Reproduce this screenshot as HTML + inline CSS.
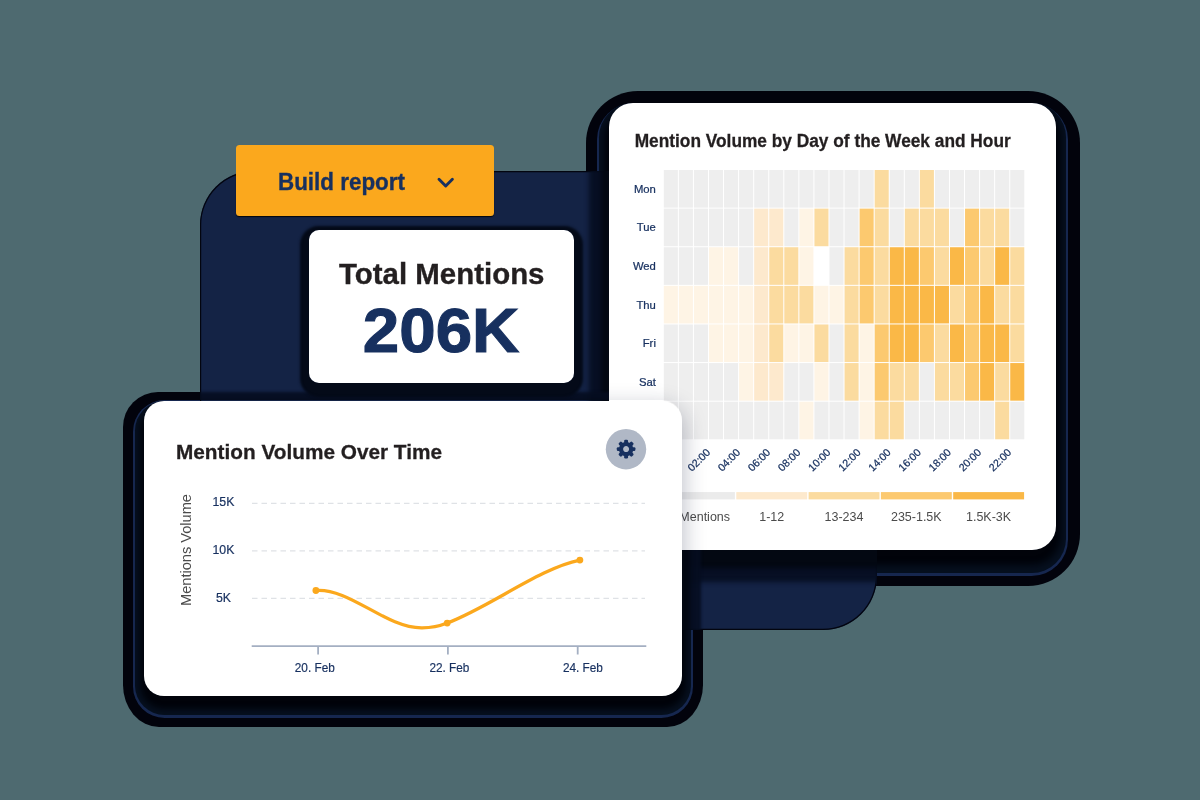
<!DOCTYPE html><html><head><meta charset="utf-8"><title>Report</title><style>
html,body{margin:0;padding:0}
body{width:1200px;height:800px;position:relative;overflow:hidden;background:#4e6a70;font-family:"Liberation Sans",sans-serif}
svg{position:absolute;left:0;top:0;overflow:visible;will-change:transform}
svg text{font-family:"Liberation Sans",sans-serif}
</style></head><body>
<div style="position:absolute;left:586.0px;top:91.4px;width:494.00px;height:494.60px;border-radius:52px;background:#02030c;"></div>
<div style="position:absolute;left:596.8px;top:102.80000000000001px;width:471.70px;height:472.80px;border-radius:36.5px;background:#16274f"></div>
<div style="position:absolute;left:599.0px;top:103.4px;width:467.30px;height:469.60px;border-radius:34.3px;background:#06101f;overflow:hidden">
<div style="position:absolute;left:10.299999999999955px;top:0.0px;width:446.70px;height:446.60px;border-radius:24px;box-shadow:0 10px 7px 5px #01030a"></div>
</div>
<div style="position:absolute;left:123.10000000000001px;top:391.5px;width:579.70px;height:335.20px;border-radius:35px;background:#02030c;border-radius:35px 35px 36px 36px / 35px 35px 42px 42px"></div>
<div style="position:absolute;left:132.70000000000002px;top:399.9px;width:560.70px;height:317.90px;border-radius:31.6px;background:#16274f"></div>
<div style="position:absolute;left:134.70000000000002px;top:400.5px;width:556.70px;height:314.90px;border-radius:29.6px;background:#06101f;overflow:hidden">
<div style="position:absolute;left:9.599999999999994px;top:0.0px;width:537.50px;height:295.70px;border-radius:20px;box-shadow:0 9px 6px 4px #01030a"></div>
</div>
<div style="position:absolute;left:200.3px;top:171.3px;width:677.2px;height:458.90000000000003px;border-radius:54px;background:#142345;overflow:hidden;box-shadow:inset 0 0 0 1.2px #03050f">
<div style="position:absolute;left:408.99999999999994px;top:-67.9px;width:446.70px;height:446.60px;border-radius:24px;box-shadow:0 10px 5px 8px #030812,0 12px 5px 19.5px rgba(6,13,32,.9)"></div>
<div style="position:absolute;left:-56.0px;top:229.2px;width:537.50px;height:295.70px;border-radius:20px;box-shadow:0 9px 5px 8px #030812,0 10.5px 3px 18.5px rgba(6,13,32,.9)"></div>
<div style="position:absolute;left:109.09999999999997px;top:58.69999999999999px;width:264.80px;height:152.60px;border-radius:10px;box-shadow:0 5px 2.5px 8.5px #040a18"></div>
<div style="position:absolute;left:35.89999999999998px;top:-26.5px;width:258.00px;height:71.20px;border-radius:3.5px;box-shadow:0 1px 1px 0 rgba(0,0,0,.85)"></div>
</div>
<div style="position:absolute;left:609.3px;top:103.4px;width:446.70000000000005px;height:446.6px;border-radius:24px;background:#fff;overflow:hidden">
<svg width="446.70000000000005" height="446.6" viewBox="609.3 103.4 446.70000000000005 446.6">
<rect x="664.10" y="170.40" width="14.06" height="37.61" fill="#eeeeee"/>
<rect x="679.16" y="170.40" width="14.06" height="37.61" fill="#eeeeee"/>
<rect x="694.23" y="170.40" width="14.06" height="37.61" fill="#eeeeee"/>
<rect x="709.29" y="170.40" width="14.06" height="37.61" fill="#eeeeee"/>
<rect x="724.35" y="170.40" width="14.06" height="37.61" fill="#eeeeee"/>
<rect x="739.41" y="170.40" width="14.06" height="37.61" fill="#eeeeee"/>
<rect x="754.48" y="170.40" width="14.06" height="37.61" fill="#eeeeee"/>
<rect x="769.54" y="170.40" width="14.06" height="37.61" fill="#eeeeee"/>
<rect x="784.60" y="170.40" width="14.06" height="37.61" fill="#eeeeee"/>
<rect x="799.66" y="170.40" width="14.06" height="37.61" fill="#eeeeee"/>
<rect x="814.72" y="170.40" width="14.06" height="37.61" fill="#eeeeee"/>
<rect x="829.79" y="170.40" width="14.06" height="37.61" fill="#eeeeee"/>
<rect x="844.85" y="170.40" width="14.06" height="37.61" fill="#eeeeee"/>
<rect x="859.91" y="170.40" width="14.06" height="37.61" fill="#eeeeee"/>
<rect x="874.97" y="170.40" width="14.06" height="37.61" fill="#fbdb9f"/>
<rect x="890.04" y="170.40" width="14.06" height="37.61" fill="#eeeeee"/>
<rect x="905.10" y="170.40" width="14.06" height="37.61" fill="#eeeeee"/>
<rect x="920.16" y="170.40" width="14.06" height="37.61" fill="#fbdb9f"/>
<rect x="935.22" y="170.40" width="14.06" height="37.61" fill="#eeeeee"/>
<rect x="950.29" y="170.40" width="14.06" height="37.61" fill="#eeeeee"/>
<rect x="965.35" y="170.40" width="14.06" height="37.61" fill="#eeeeee"/>
<rect x="980.41" y="170.40" width="14.06" height="37.61" fill="#eeeeee"/>
<rect x="995.47" y="170.40" width="14.06" height="37.61" fill="#eeeeee"/>
<rect x="1010.54" y="170.40" width="14.06" height="37.61" fill="#eeeeee"/>
<rect x="664.10" y="209.01" width="14.06" height="37.61" fill="#eeeeee"/>
<rect x="679.16" y="209.01" width="14.06" height="37.61" fill="#eeeeee"/>
<rect x="694.23" y="209.01" width="14.06" height="37.61" fill="#eeeeee"/>
<rect x="709.29" y="209.01" width="14.06" height="37.61" fill="#eeeeee"/>
<rect x="724.35" y="209.01" width="14.06" height="37.61" fill="#eeeeee"/>
<rect x="739.41" y="209.01" width="14.06" height="37.61" fill="#eeeeee"/>
<rect x="754.48" y="209.01" width="14.06" height="37.61" fill="#fde9cd"/>
<rect x="769.54" y="209.01" width="14.06" height="37.61" fill="#fde9cd"/>
<rect x="784.60" y="209.01" width="14.06" height="37.61" fill="#eeeeee"/>
<rect x="799.66" y="209.01" width="14.06" height="37.61" fill="#fef4e5"/>
<rect x="814.72" y="209.01" width="14.06" height="37.61" fill="#fbdb9f"/>
<rect x="829.79" y="209.01" width="14.06" height="37.61" fill="#eeeeee"/>
<rect x="844.85" y="209.01" width="14.06" height="37.61" fill="#eeeeee"/>
<rect x="859.91" y="209.01" width="14.06" height="37.61" fill="#fcc96f"/>
<rect x="874.97" y="209.01" width="14.06" height="37.61" fill="#fbdb9f"/>
<rect x="890.04" y="209.01" width="14.06" height="37.61" fill="#eeeeee"/>
<rect x="905.10" y="209.01" width="14.06" height="37.61" fill="#fbdb9f"/>
<rect x="920.16" y="209.01" width="14.06" height="37.61" fill="#fbdb9f"/>
<rect x="935.22" y="209.01" width="14.06" height="37.61" fill="#fbdb9f"/>
<rect x="950.29" y="209.01" width="14.06" height="37.61" fill="#eeeeee"/>
<rect x="965.35" y="209.01" width="14.06" height="37.61" fill="#fcc96f"/>
<rect x="980.41" y="209.01" width="14.06" height="37.61" fill="#fbdb9f"/>
<rect x="995.47" y="209.01" width="14.06" height="37.61" fill="#fbdb9f"/>
<rect x="1010.54" y="209.01" width="14.06" height="37.61" fill="#eeeeee"/>
<rect x="664.10" y="247.63" width="14.06" height="37.61" fill="#eeeeee"/>
<rect x="679.16" y="247.63" width="14.06" height="37.61" fill="#eeeeee"/>
<rect x="694.23" y="247.63" width="14.06" height="37.61" fill="#eeeeee"/>
<rect x="709.29" y="247.63" width="14.06" height="37.61" fill="#fef4e5"/>
<rect x="724.35" y="247.63" width="14.06" height="37.61" fill="#fef4e5"/>
<rect x="739.41" y="247.63" width="14.06" height="37.61" fill="#eeeeee"/>
<rect x="754.48" y="247.63" width="14.06" height="37.61" fill="#fde9cd"/>
<rect x="769.54" y="247.63" width="14.06" height="37.61" fill="#fbdb9f"/>
<rect x="784.60" y="247.63" width="14.06" height="37.61" fill="#fbdb9f"/>
<rect x="799.66" y="247.63" width="14.06" height="37.61" fill="#fef4e5"/>
<rect x="814.72" y="247.63" width="14.06" height="37.61" fill="#ffffff"/>
<rect x="829.79" y="247.63" width="14.06" height="37.61" fill="#eeeeee"/>
<rect x="844.85" y="247.63" width="14.06" height="37.61" fill="#fbdb9f"/>
<rect x="859.91" y="247.63" width="14.06" height="37.61" fill="#fcc96f"/>
<rect x="874.97" y="247.63" width="14.06" height="37.61" fill="#fbdb9f"/>
<rect x="890.04" y="247.63" width="14.06" height="37.61" fill="#fab847"/>
<rect x="905.10" y="247.63" width="14.06" height="37.61" fill="#fab847"/>
<rect x="920.16" y="247.63" width="14.06" height="37.61" fill="#fcc96f"/>
<rect x="935.22" y="247.63" width="14.06" height="37.61" fill="#fbdb9f"/>
<rect x="950.29" y="247.63" width="14.06" height="37.61" fill="#fab847"/>
<rect x="965.35" y="247.63" width="14.06" height="37.61" fill="#fcc96f"/>
<rect x="980.41" y="247.63" width="14.06" height="37.61" fill="#fbdb9f"/>
<rect x="995.47" y="247.63" width="14.06" height="37.61" fill="#fab847"/>
<rect x="1010.54" y="247.63" width="14.06" height="37.61" fill="#fbdb9f"/>
<rect x="664.10" y="286.24" width="14.06" height="37.61" fill="#fef4e5"/>
<rect x="679.16" y="286.24" width="14.06" height="37.61" fill="#fef4e5"/>
<rect x="694.23" y="286.24" width="14.06" height="37.61" fill="#fef4e5"/>
<rect x="709.29" y="286.24" width="14.06" height="37.61" fill="#fef4e5"/>
<rect x="724.35" y="286.24" width="14.06" height="37.61" fill="#fef4e5"/>
<rect x="739.41" y="286.24" width="14.06" height="37.61" fill="#fef4e5"/>
<rect x="754.48" y="286.24" width="14.06" height="37.61" fill="#fde9cd"/>
<rect x="769.54" y="286.24" width="14.06" height="37.61" fill="#fbdb9f"/>
<rect x="784.60" y="286.24" width="14.06" height="37.61" fill="#fbdb9f"/>
<rect x="799.66" y="286.24" width="14.06" height="37.61" fill="#fbdb9f"/>
<rect x="814.72" y="286.24" width="14.06" height="37.61" fill="#fef4e5"/>
<rect x="829.79" y="286.24" width="14.06" height="37.61" fill="#fef4e5"/>
<rect x="844.85" y="286.24" width="14.06" height="37.61" fill="#fbdb9f"/>
<rect x="859.91" y="286.24" width="14.06" height="37.61" fill="#fcc96f"/>
<rect x="874.97" y="286.24" width="14.06" height="37.61" fill="#fbdb9f"/>
<rect x="890.04" y="286.24" width="14.06" height="37.61" fill="#fab847"/>
<rect x="905.10" y="286.24" width="14.06" height="37.61" fill="#fab847"/>
<rect x="920.16" y="286.24" width="14.06" height="37.61" fill="#fab847"/>
<rect x="935.22" y="286.24" width="14.06" height="37.61" fill="#fab847"/>
<rect x="950.29" y="286.24" width="14.06" height="37.61" fill="#fbdb9f"/>
<rect x="965.35" y="286.24" width="14.06" height="37.61" fill="#fcc96f"/>
<rect x="980.41" y="286.24" width="14.06" height="37.61" fill="#fab847"/>
<rect x="995.47" y="286.24" width="14.06" height="37.61" fill="#fbdb9f"/>
<rect x="1010.54" y="286.24" width="14.06" height="37.61" fill="#fbdb9f"/>
<rect x="664.10" y="324.86" width="14.06" height="37.61" fill="#eeeeee"/>
<rect x="679.16" y="324.86" width="14.06" height="37.61" fill="#eeeeee"/>
<rect x="694.23" y="324.86" width="14.06" height="37.61" fill="#eeeeee"/>
<rect x="709.29" y="324.86" width="14.06" height="37.61" fill="#fef4e5"/>
<rect x="724.35" y="324.86" width="14.06" height="37.61" fill="#fef4e5"/>
<rect x="739.41" y="324.86" width="14.06" height="37.61" fill="#fef4e5"/>
<rect x="754.48" y="324.86" width="14.06" height="37.61" fill="#fde9cd"/>
<rect x="769.54" y="324.86" width="14.06" height="37.61" fill="#fbdb9f"/>
<rect x="784.60" y="324.86" width="14.06" height="37.61" fill="#fef4e5"/>
<rect x="799.66" y="324.86" width="14.06" height="37.61" fill="#fef4e5"/>
<rect x="814.72" y="324.86" width="14.06" height="37.61" fill="#fbdb9f"/>
<rect x="829.79" y="324.86" width="14.06" height="37.61" fill="#eeeeee"/>
<rect x="844.85" y="324.86" width="14.06" height="37.61" fill="#fbdb9f"/>
<rect x="859.91" y="324.86" width="14.06" height="37.61" fill="#fef4e5"/>
<rect x="874.97" y="324.86" width="14.06" height="37.61" fill="#fcc96f"/>
<rect x="890.04" y="324.86" width="14.06" height="37.61" fill="#fab847"/>
<rect x="905.10" y="324.86" width="14.06" height="37.61" fill="#fab847"/>
<rect x="920.16" y="324.86" width="14.06" height="37.61" fill="#fcc96f"/>
<rect x="935.22" y="324.86" width="14.06" height="37.61" fill="#fbdb9f"/>
<rect x="950.29" y="324.86" width="14.06" height="37.61" fill="#fab847"/>
<rect x="965.35" y="324.86" width="14.06" height="37.61" fill="#fcc96f"/>
<rect x="980.41" y="324.86" width="14.06" height="37.61" fill="#fab847"/>
<rect x="995.47" y="324.86" width="14.06" height="37.61" fill="#fab847"/>
<rect x="1010.54" y="324.86" width="14.06" height="37.61" fill="#fbdb9f"/>
<rect x="664.10" y="363.47" width="14.06" height="37.61" fill="#eeeeee"/>
<rect x="679.16" y="363.47" width="14.06" height="37.61" fill="#eeeeee"/>
<rect x="694.23" y="363.47" width="14.06" height="37.61" fill="#eeeeee"/>
<rect x="709.29" y="363.47" width="14.06" height="37.61" fill="#eeeeee"/>
<rect x="724.35" y="363.47" width="14.06" height="37.61" fill="#eeeeee"/>
<rect x="739.41" y="363.47" width="14.06" height="37.61" fill="#fef4e5"/>
<rect x="754.48" y="363.47" width="14.06" height="37.61" fill="#fde9cd"/>
<rect x="769.54" y="363.47" width="14.06" height="37.61" fill="#fde9cd"/>
<rect x="784.60" y="363.47" width="14.06" height="37.61" fill="#eeeeee"/>
<rect x="799.66" y="363.47" width="14.06" height="37.61" fill="#eeeeee"/>
<rect x="814.72" y="363.47" width="14.06" height="37.61" fill="#fef4e5"/>
<rect x="829.79" y="363.47" width="14.06" height="37.61" fill="#eeeeee"/>
<rect x="844.85" y="363.47" width="14.06" height="37.61" fill="#fbdb9f"/>
<rect x="859.91" y="363.47" width="14.06" height="37.61" fill="#fef4e5"/>
<rect x="874.97" y="363.47" width="14.06" height="37.61" fill="#fcc96f"/>
<rect x="890.04" y="363.47" width="14.06" height="37.61" fill="#fbdb9f"/>
<rect x="905.10" y="363.47" width="14.06" height="37.61" fill="#fbdb9f"/>
<rect x="920.16" y="363.47" width="14.06" height="37.61" fill="#eeeeee"/>
<rect x="935.22" y="363.47" width="14.06" height="37.61" fill="#fbdb9f"/>
<rect x="950.29" y="363.47" width="14.06" height="37.61" fill="#fbdb9f"/>
<rect x="965.35" y="363.47" width="14.06" height="37.61" fill="#fcc96f"/>
<rect x="980.41" y="363.47" width="14.06" height="37.61" fill="#fab847"/>
<rect x="995.47" y="363.47" width="14.06" height="37.61" fill="#fbdb9f"/>
<rect x="1010.54" y="363.47" width="14.06" height="37.61" fill="#fab847"/>
<rect x="664.10" y="402.09" width="14.06" height="37.61" fill="#eeeeee"/>
<rect x="679.16" y="402.09" width="14.06" height="37.61" fill="#eeeeee"/>
<rect x="694.23" y="402.09" width="14.06" height="37.61" fill="#eeeeee"/>
<rect x="709.29" y="402.09" width="14.06" height="37.61" fill="#eeeeee"/>
<rect x="724.35" y="402.09" width="14.06" height="37.61" fill="#eeeeee"/>
<rect x="739.41" y="402.09" width="14.06" height="37.61" fill="#eeeeee"/>
<rect x="754.48" y="402.09" width="14.06" height="37.61" fill="#eeeeee"/>
<rect x="769.54" y="402.09" width="14.06" height="37.61" fill="#eeeeee"/>
<rect x="784.60" y="402.09" width="14.06" height="37.61" fill="#eeeeee"/>
<rect x="799.66" y="402.09" width="14.06" height="37.61" fill="#fef4e5"/>
<rect x="814.72" y="402.09" width="14.06" height="37.61" fill="#eeeeee"/>
<rect x="829.79" y="402.09" width="14.06" height="37.61" fill="#eeeeee"/>
<rect x="844.85" y="402.09" width="14.06" height="37.61" fill="#eeeeee"/>
<rect x="859.91" y="402.09" width="14.06" height="37.61" fill="#fef4e5"/>
<rect x="874.97" y="402.09" width="14.06" height="37.61" fill="#fbdb9f"/>
<rect x="890.04" y="402.09" width="14.06" height="37.61" fill="#fbdb9f"/>
<rect x="905.10" y="402.09" width="14.06" height="37.61" fill="#eeeeee"/>
<rect x="920.16" y="402.09" width="14.06" height="37.61" fill="#eeeeee"/>
<rect x="935.22" y="402.09" width="14.06" height="37.61" fill="#eeeeee"/>
<rect x="950.29" y="402.09" width="14.06" height="37.61" fill="#eeeeee"/>
<rect x="965.35" y="402.09" width="14.06" height="37.61" fill="#eeeeee"/>
<rect x="980.41" y="402.09" width="14.06" height="37.61" fill="#eeeeee"/>
<rect x="995.47" y="402.09" width="14.06" height="37.61" fill="#fbdb9f"/>
<rect x="1010.54" y="402.09" width="14.06" height="37.61" fill="#eeeeee"/>
<text x="635" y="147.2" font-size="19" font-weight="700" fill="#231f20" stroke="#231f20" stroke-width="0.3" textLength="376" lengthAdjust="spacingAndGlyphs">Mention Volume by Day of the Week and Hour</text>
<text x="656.2" y="193.2" font-size="11.3" text-anchor="end" fill="#17305f" stroke="#17305f" stroke-width="0.25">Mon</text>
<text x="656.2" y="231.8" font-size="11.3" text-anchor="end" fill="#17305f" stroke="#17305f" stroke-width="0.25">Tue</text>
<text x="656.2" y="270.4" font-size="11.3" text-anchor="end" fill="#17305f" stroke="#17305f" stroke-width="0.25">Wed</text>
<text x="656.2" y="309.0" font-size="11.3" text-anchor="end" fill="#17305f" stroke="#17305f" stroke-width="0.25">Thu</text>
<text x="656.2" y="347.7" font-size="11.3" text-anchor="end" fill="#17305f" stroke="#17305f" stroke-width="0.25">Fri</text>
<text x="656.2" y="386.3" font-size="11.3" text-anchor="end" fill="#17305f" stroke="#17305f" stroke-width="0.25">Sat</text>
<text x="656.2" y="424.9" font-size="11.3" text-anchor="end" fill="#17305f" stroke="#17305f" stroke-width="0.25">Sun</text>
<text transform="translate(680.9,453.6) rotate(-45)" font-size="10.6" text-anchor="end" fill="#17305f" stroke="#17305f" stroke-width="0.25">00:00</text>
<text transform="translate(711.1,453.6) rotate(-45)" font-size="10.6" text-anchor="end" fill="#17305f" stroke="#17305f" stroke-width="0.25">02:00</text>
<text transform="translate(741.2,453.6) rotate(-45)" font-size="10.6" text-anchor="end" fill="#17305f" stroke="#17305f" stroke-width="0.25">04:00</text>
<text transform="translate(771.3,453.6) rotate(-45)" font-size="10.6" text-anchor="end" fill="#17305f" stroke="#17305f" stroke-width="0.25">06:00</text>
<text transform="translate(801.4,453.6) rotate(-45)" font-size="10.6" text-anchor="end" fill="#17305f" stroke="#17305f" stroke-width="0.25">08:00</text>
<text transform="translate(831.6,453.6) rotate(-45)" font-size="10.6" text-anchor="end" fill="#17305f" stroke="#17305f" stroke-width="0.25">10:00</text>
<text transform="translate(861.7,453.6) rotate(-45)" font-size="10.6" text-anchor="end" fill="#17305f" stroke="#17305f" stroke-width="0.25">12:00</text>
<text transform="translate(891.8,453.6) rotate(-45)" font-size="10.6" text-anchor="end" fill="#17305f" stroke="#17305f" stroke-width="0.25">14:00</text>
<text transform="translate(921.9,453.6) rotate(-45)" font-size="10.6" text-anchor="end" fill="#17305f" stroke="#17305f" stroke-width="0.25">16:00</text>
<text transform="translate(952.1,453.6) rotate(-45)" font-size="10.6" text-anchor="end" fill="#17305f" stroke="#17305f" stroke-width="0.25">18:00</text>
<text transform="translate(982.2,453.6) rotate(-45)" font-size="10.6" text-anchor="end" fill="#17305f" stroke="#17305f" stroke-width="0.25">20:00</text>
<text transform="translate(1012.3,453.6) rotate(-45)" font-size="10.6" text-anchor="end" fill="#17305f" stroke="#17305f" stroke-width="0.25">22:00</text>
<rect x="664.30" y="492.5" width="70.90" height="7.3" fill="#ebebeb"/>
<text x="699.8" y="521.3" font-size="12.5" text-anchor="middle" fill="#4b4b4b">0 Mentions</text>
<rect x="736.60" y="492.5" width="70.90" height="7.3" fill="#fde9cd"/>
<text x="772.0" y="521.3" font-size="12.5" text-anchor="middle" fill="#4b4b4b">1-12</text>
<rect x="808.90" y="492.5" width="70.90" height="7.3" fill="#fbdb9f"/>
<text x="844.3" y="521.3" font-size="12.5" text-anchor="middle" fill="#4b4b4b">13-234</text>
<rect x="881.20" y="492.5" width="70.90" height="7.3" fill="#fcc96f"/>
<text x="916.6" y="521.3" font-size="12.5" text-anchor="middle" fill="#4b4b4b">235-1.5K</text>
<rect x="953.50" y="492.5" width="70.90" height="7.3" fill="#fab847"/>
<text x="988.9" y="521.3" font-size="12.5" text-anchor="middle" fill="#4b4b4b">1.5K-3K</text>
</svg>
<div style="position:absolute;left:-464.99999999999994px;top:297.1px;width:537.50px;height:295.70px;border-radius:20px;box-shadow:0 8px 22px 2px rgba(20,30,60,.28)"></div>
</div>
<div style="position:absolute;left:309.4px;top:230px;width:264.80px;height:152.60px;border-radius:10px;background:#fff"></div>
<div style="position:absolute;left:236.2px;top:144.8px;width:258.00px;height:71.20px;border-radius:3.5px;background:#fba81d"></div>
<div style="position:absolute;left:144.3px;top:400.5px;width:537.50px;height:295.70px;border-radius:20px;background:#fff"></div>
<svg width="1200" height="800" viewBox="0 0 1200 800">
<text x="278" y="189.5" font-size="23" font-weight="700" fill="#17305f" stroke="#17305f" stroke-width="0.35" textLength="127" lengthAdjust="spacingAndGlyphs">Build report</text>
<path d="M439 179.2 L445.7 186 L452.4 179.2" fill="none" stroke="#17305f" stroke-width="2.9" stroke-linecap="round" stroke-linejoin="round"/>
<text x="339" y="283.6" font-size="28.6" font-weight="700" fill="#231f20" stroke="#231f20" stroke-width="0.35" textLength="205.5" lengthAdjust="spacingAndGlyphs">Total Mentions</text>
<text x="362.8" y="351.6" font-size="63.5" font-weight="700" fill="#17305f" stroke="#17305f" stroke-width="1.1" textLength="156.6" lengthAdjust="spacingAndGlyphs">206K</text>
<text x="176" y="458.8" font-size="21" font-weight="700" fill="#231f20" stroke="#231f20" stroke-width="0.3" textLength="266" lengthAdjust="spacingAndGlyphs">Mention Volume Over Time</text>
<circle cx="626" cy="449.2" r="20.2" fill="#b0b8c6"/>
<g transform="translate(626.1,449.1)" fill="#17305f">
<circle r="5.1" fill="none" stroke="#17305f" stroke-width="4.2"/>
<rect x="-1.95" y="-9.3" width="3.9" height="4" rx="1.2" transform="rotate(0)"/>
<rect x="-1.95" y="-9.3" width="3.9" height="4" rx="1.2" transform="rotate(45)"/>
<rect x="-1.95" y="-9.3" width="3.9" height="4" rx="1.2" transform="rotate(90)"/>
<rect x="-1.95" y="-9.3" width="3.9" height="4" rx="1.2" transform="rotate(135)"/>
<rect x="-1.95" y="-9.3" width="3.9" height="4" rx="1.2" transform="rotate(180)"/>
<rect x="-1.95" y="-9.3" width="3.9" height="4" rx="1.2" transform="rotate(225)"/>
<rect x="-1.95" y="-9.3" width="3.9" height="4" rx="1.2" transform="rotate(270)"/>
<rect x="-1.95" y="-9.3" width="3.9" height="4" rx="1.2" transform="rotate(315)"/>
</g>
<line x1="252" y1="503.3" x2="645" y2="503.3" stroke="#dfe2e6" stroke-width="1.2" stroke-dasharray="5.5 4"/>
<text x="223.4" y="506.4" font-size="12.3" text-anchor="middle" fill="#17305f" stroke="#17305f" stroke-width="0.2">15K</text>
<line x1="252" y1="550.8" x2="645" y2="550.8" stroke="#dfe2e6" stroke-width="1.2" stroke-dasharray="5.5 4"/>
<text x="223.4" y="553.9" font-size="12.3" text-anchor="middle" fill="#17305f" stroke="#17305f" stroke-width="0.2">10K</text>
<line x1="252" y1="598.4" x2="645" y2="598.4" stroke="#dfe2e6" stroke-width="1.2" stroke-dasharray="5.5 4"/>
<text x="223.4" y="601.5" font-size="12.3" text-anchor="middle" fill="#17305f" stroke="#17305f" stroke-width="0.2">5K</text>
<text transform="translate(191,606) rotate(-90)" font-size="14" fill="#4b4b4b" textLength="112" lengthAdjust="spacingAndGlyphs">Mentions Volume</text>
<line x1="251.7" y1="646.2" x2="646.3" y2="646.2" stroke="#a4afc2" stroke-width="1.8"/>
<line x1="318.1" y1="646.2" x2="318.1" y2="654.5" stroke="#a4afc2" stroke-width="1.8"/>
<text x="314.8" y="671.9" font-size="12.5" text-anchor="middle" fill="#17305f" stroke="#17305f" stroke-width="0.2" textLength="40" lengthAdjust="spacingAndGlyphs">20. Feb</text>
<line x1="447.9" y1="646.2" x2="447.9" y2="654.5" stroke="#a4afc2" stroke-width="1.8"/>
<text x="449.4" y="671.9" font-size="12.5" text-anchor="middle" fill="#17305f" stroke="#17305f" stroke-width="0.2" textLength="40" lengthAdjust="spacingAndGlyphs">22. Feb</text>
<line x1="577.7" y1="646.2" x2="577.7" y2="654.5" stroke="#a4afc2" stroke-width="1.8"/>
<text x="582.9" y="671.9" font-size="12.5" text-anchor="middle" fill="#17305f" stroke="#17305f" stroke-width="0.2" textLength="40" lengthAdjust="spacingAndGlyphs">24. Feb</text>
<path d="M315.9 590.5 C350 588, 385 627.5, 421.5 627.9 C432 628, 440 626, 447.2 623.1 C490 607, 540 568, 579.9 560.1" fill="none" stroke="#fba81d" stroke-width="3.2" stroke-linecap="round"/>
<circle cx="315.9" cy="590.5" r="3.4" fill="#fba81d"/>
<circle cx="447.2" cy="623.1" r="3.4" fill="#fba81d"/>
<circle cx="579.9" cy="560.1" r="3.4" fill="#fba81d"/>
</svg>
</body></html>
